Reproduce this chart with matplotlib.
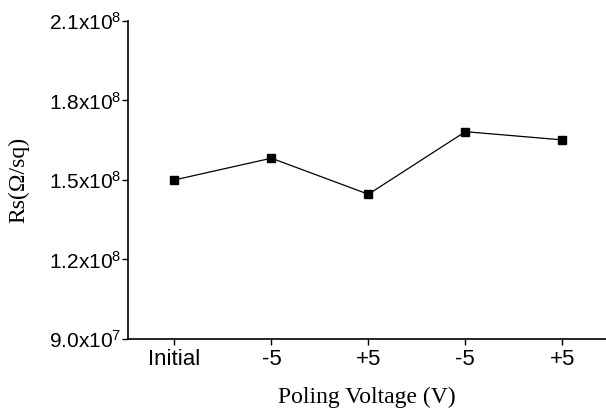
import matplotlib
matplotlib.use('Agg')
import matplotlib.pyplot as plt
from matplotlib.ticker import FuncFormatter

plt.rcParams['mathtext.fontset'] = 'custom'
plt.rcParams['mathtext.rm'] = 'Liberation Sans'
plt.rcParams['mathtext.it'] = 'Liberation Sans:italic'
plt.rcParams['mathtext.bf'] = 'Liberation Sans:bold'

# data
categories = ['Initial', '-5', '+5', '-5', '+5']
rs_values = [1.50e8, 1.582e8, 1.446e8, 1.682e8, 1.651e8]
y_ticks = [9.0e7, 1.2e8, 1.5e8, 1.8e8, 2.1e8]


def sci_label(v, pos=None):
    exp = len(str(int(v))) - 1
    mant = v / 10 ** exp
    return r'$%.1f\mathrm{x}10^{%d}$' % (mant, exp)


fig = plt.figure(figsize=(6.06, 4.17), dpi=100)
ax = fig.add_axes([0.211, 0.187, 0.789, 0.763])

x = range(len(categories))
ax.plot(x, rs_values, color='black', linewidth=0.9, marker='s',
        markersize=6, markerfacecolor='black', markeredgecolor='black')

ax.set_xlim(-0.48, 4.45)
ax.set_ylim(y_ticks[0], y_ticks[-1])
ax.set_xticks(list(x))
ax.set_xticklabels(categories, fontname='Liberation Sans', fontsize=16)
ax.set_yticks(y_ticks)
ax.yaxis.set_major_formatter(FuncFormatter(sci_label))
for lab in ax.get_yticklabels():
    lab.set_fontsize(15)

ax.spines['top'].set_visible(False)
ax.spines['right'].set_visible(False)
ax.spines['left'].set_linewidth(1.2)
ax.spines['bottom'].set_linewidth(1.2)
ax.tick_params(axis='both', direction='out', length=4, width=1.0, colors='black')
ax.tick_params(axis='y', pad=1)
ax.tick_params(axis='x', pad=3)

ax.set_xlabel('Poling Voltage (V)', fontname='Liberation Serif', fontsize=17, labelpad=12)
ax.set_ylabel('Rs(\u03a9/sq)', fontname='Liberation Serif', fontsize=17, labelpad=14)

fig.savefig('out.png', dpi=100)
